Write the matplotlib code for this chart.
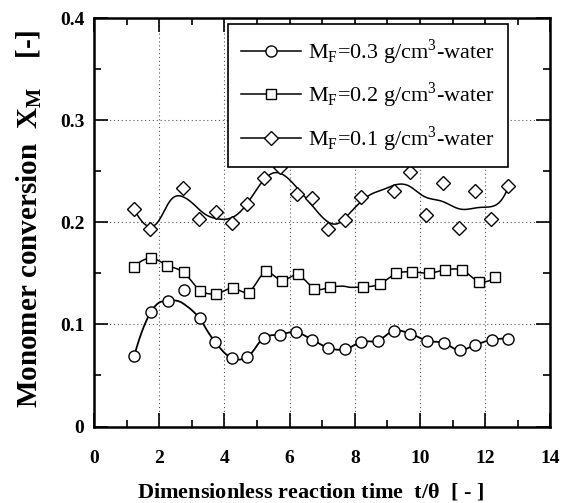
####################################################
# Monomer conversion vs dimensionless reaction time #
####################################################

import numpy as np
import matplotlib
matplotlib.use('Agg')
import matplotlib.pyplot as plt

# fonts: times-like everywhere, mathtext too
plt.rcParams['font.family'] = ['Liberation Serif', 'DejaVu Serif']
plt.rcParams['mathtext.fontset'] = 'custom'
plt.rcParams['mathtext.rm'] = 'Liberation Serif'
plt.rcParams['mathtext.bf'] = 'Liberation Serif:bold'

########
# Data #
########
# M_F = 0.3 g/cm3-water (circles)
t_03 = [1.23, 1.74, 2.26, 3.24, 3.71, 4.22, 4.70, 5.21, 5.70, 6.20, 6.69, 7.19,
        7.69, 8.20, 8.70, 9.21, 9.70, 10.21, 10.72, 11.21, 11.69, 12.20, 12.71]
x_03 = [0.069, 0.112, 0.123, 0.106, 0.083, 0.067, 0.068, 0.087, 0.090, 0.0925, 0.085, 0.077,
        0.0755, 0.083, 0.084, 0.094, 0.091, 0.084, 0.082, 0.0745, 0.080, 0.085, 0.086]
# one circle sitting off the curve
t_03_off = [2.77]
x_03_off = [0.134]

# M_F = 0.2 g/cm3-water (squares)
t_02 = [1.22, 1.74, 2.25, 2.76, 3.25, 3.74, 4.25, 4.74, 5.26, 5.75, 6.26,
        6.75, 7.24, 8.26, 8.77, 9.26, 9.76, 10.27, 10.78, 11.29, 11.80, 12.31]
x_02 = [0.156, 0.165, 0.1575, 0.151, 0.133, 0.130, 0.136, 0.131, 0.152, 0.1425, 0.149,
        0.135, 0.137, 0.137, 0.1395, 0.150, 0.1515, 0.150, 0.1535, 0.1535, 0.142, 0.146]

# M_F = 0.1 g/cm3-water (diamonds)
t_01 = [1.23, 1.73, 2.74, 3.23, 3.73, 4.22, 4.70, 5.21, 5.70, 6.21, 6.70,
        7.17, 7.69, 8.20, 9.20, 9.69, 10.18, 10.71, 11.20, 11.69, 12.18, 12.70]
x_01 = [0.213, 0.193, 0.234, 0.203, 0.2105, 0.199, 0.2176, 0.243, 0.2545, 0.228, 0.2235,
        0.193, 0.2026, 0.225, 0.2304, 0.249, 0.2075, 0.2386, 0.1944, 0.2304, 0.2033, 0.2353]

labels = [r'M$_\mathregular{F}$=0.3 g/cm$^\mathregular{3}$-water',
          r'M$_\mathregular{F}$=0.2 g/cm$^\mathregular{3}$-water',
          r'M$_\mathregular{F}$=0.1 g/cm$^\mathregular{3}$-water']


# smooth curve through the points (local quadratic, gaussian weights)
def smooth(t, x, h):
    t = np.asarray(t)
    x = np.asarray(x)
    grid = np.linspace(t[0], t[-1], 300)
    out = []
    for g in grid:
        w = np.sqrt(np.exp(-0.5 * ((t - g) / h) ** 2))
        A = np.vander(t - g, 3) * w[:, None]
        coef = np.linalg.lstsq(A, x * w, rcond=None)[0]
        out.append(coef[-1])
    return grid, np.array(out)


############
# Plotting #
############
fig = plt.figure(figsize=(5.64, 5.03), dpi=100)
ax = fig.add_axes([0.1668, 0.152, 0.8092, 0.812])

mk = dict(mfc='white', mec='black', mew=1.0, ls='none', zorder=3)

g3, s3 = smooth(t_03, x_03, 0.30)
g2, s2 = smooth(t_02, x_02, 0.32)
g1, s1 = smooth(t_01, x_01, 0.54)

ax.plot(g3, s3, color='black', lw=1.3, zorder=2)
ax.plot(g2, s2, color='black', lw=1.1, zorder=2)
ax.plot(g1, s1, color='black', lw=1.1, zorder=2)

ax.plot(t_03, x_03, marker='o', ms=8, **mk)
ax.plot(t_03_off, x_03_off, marker='o', ms=8, **mk)
ax.plot(t_02, x_02, marker='s', ms=7.5, **mk)
ax.plot(t_01, x_01, marker='D', ms=7.5, **mk)

# legend handles: line with one marker in the middle
h1, = ax.plot([], [], color='black', lw=1.1, marker='o', ms=8, mfc='white', mec='black')
h2, = ax.plot([], [], color='black', lw=1.1, marker='s', ms=7.5, mfc='white', mec='black')
h3, = ax.plot([], [], color='black', lw=1.1, marker='D', ms=7.5, mfc='white', mec='black')
leg = ax.legend([h1, h2, h3], labels, loc='upper left', bbox_to_anchor=(0.2926, 0.986),
                borderaxespad=0, fontsize=16, frameon=True, fancybox=False,
                edgecolor='black', framealpha=1, numpoints=1, handlelength=2.7,
                handletextpad=0.3, borderpad=0.6, labelspacing=0.62)
leg.get_frame().set_linewidth(1.2)
leg.set_zorder(5)

# axes limits / ticks
ax.set_xlim(0, 14)
ax.set_ylim(0, 0.4)
ax.set_xticks(np.arange(0, 15, 2))
ax.set_xticks(np.arange(0, 15, 1), minor=True)
ax.set_yticks([0, 0.1, 0.2, 0.3, 0.4])
ax.set_yticklabels(['0', '0.1', '0.2', '0.3', '0.4'])
ax.set_yticks(np.arange(0, 0.41, 0.05), minor=True)
ax.tick_params(which='both', direction='in', top=True, right=True, width=1.2)
ax.tick_params(which='major', length=10)
ax.tick_params(which='minor', length=5)
ax.tick_params(axis='x', which='both', pad=17)
ax.tick_params(axis='y', which='both', pad=7)
for lab in ax.get_xticklabels() + ax.get_yticklabels():
    lab.set_fontweight('bold')
    lab.set_fontsize(14)

for sp in ax.spines.values():
    sp.set_linewidth(1.8)

ax.grid(True, which='major', color='#555555', lw=0.8, ls=(0, (1, 2.5)))

ax.set_xlabel(r'Dimensionless reaction time  t/$\mathregular{\theta}$  [ - ]',
              fontsize=16, fontweight='bold', va='center')
ax.xaxis.set_label_coords(0.474, -0.161)
ax.set_ylabel(r'Monomer conversion  X$_\mathregular{M}$    [-]',
              fontsize=21, fontweight='bold', va='center')
ax.yaxis.set_label_coords(-0.1415, 0.51)

fig.savefig('out.png', dpi=100)
